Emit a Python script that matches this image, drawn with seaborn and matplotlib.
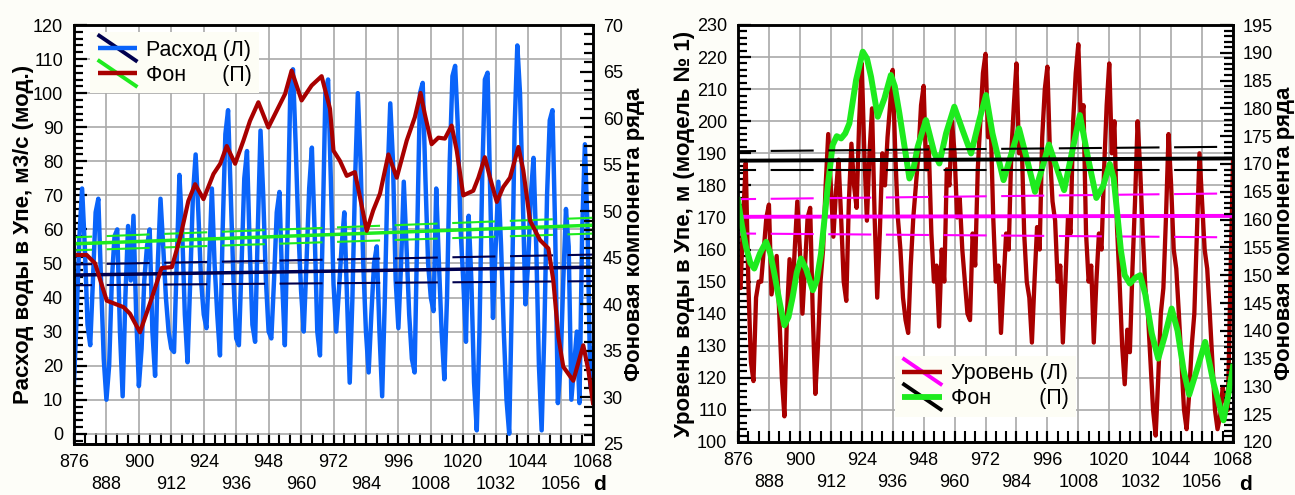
import numpy as np
import pandas as pd
import matplotlib
matplotlib.use("Agg")
import matplotlib.pyplot as plt
import seaborn as sns
from matplotlib.lines import Line2D
from matplotlib.legend_handler import HandlerBase
from matplotlib.ticker import MultipleLocator

plt.rcParams['font.family'] = ['Liberation Sans', 'DejaVu Sans']
plt.rcParams['lines.scale_dashes'] = False
plt.rcParams['lines.solid_joinstyle'] = 'round'

# ---------------- data ----------------
days = list(range(876, 1069))

# water discharge in the Upa river (model), m3/s
flow = [15, 35, 58, 72, 55, 32, 26, 45, 65, 69, 45, 22,
        10, 20, 45, 58, 60, 30, 11, 40, 61, 45, 64, 35,
        14, 25, 45, 55, 60, 30, 17, 50, 69, 55, 40, 30,
        25, 24, 50, 76, 60, 35, 21, 45, 70, 82, 65, 45,
        35, 31, 50, 72, 50, 35, 23, 60, 88, 95, 70, 45,
        28, 26, 50, 75, 83, 55, 32, 27, 60, 89, 70, 45,
        30, 28, 45, 65, 71, 45, 26, 60, 100, 107, 85, 60,
        42, 30, 50, 72, 84, 60, 30, 23, 60, 100, 104, 75,
        44, 30, 42, 55, 65, 40, 15, 40, 75, 100, 80, 50,
        30, 18, 35, 50, 55, 30, 11, 40, 75, 97, 80, 45,
        31, 50, 74, 55, 35, 22, 18, 60, 100, 103, 75, 50,
        40, 36, 72, 50, 30, 16, 40, 80, 105, 108, 90, 60,
        45, 27, 64, 45, 15, 1, 30, 75, 104, 106, 70, 34,
        55, 74, 55, 30, 10, 0, 40, 90, 114, 100, 70, 38,
        50, 70, 81, 55, 20, 1, 30, 70, 92, 95, 60, 9,
        20, 45, 66, 55, 10, 20, 30, 9, 60, 85, 60, 14,
        25]

# water level in the Upa river (model No 1), m
level = [150, 148, 170, 187, 150, 125, 119, 145, 150, 150, 160, 170,
         174, 146, 152, 158, 140, 120, 108, 140, 157, 144, 160, 175,
         160, 140, 155, 170, 173, 140, 115, 130, 150, 160, 180, 196,
         180, 164, 178, 188, 170, 150, 144, 175, 193, 180, 173, 200,
         218, 190, 169, 190, 204, 170, 145, 165, 190, 180, 195, 205,
         216, 190, 170, 160, 145, 138, 134, 155, 170, 180, 190, 205,
         211, 185, 192, 165, 150, 155, 136, 160, 150, 185, 180, 200,
         190, 170, 176, 160, 150, 140, 138, 165, 155, 185, 200, 215,
         221, 195, 200, 170, 150, 155, 134, 150, 165, 160, 190, 205,
         218, 190, 195, 165, 150, 145, 131, 150, 167, 160, 195, 210,
         217, 190, 175, 169, 150, 155, 131, 150, 170, 165, 200, 215,
         224, 200, 205, 165, 150, 155, 131, 150, 165, 160, 185, 205,
         218, 190, 200, 167, 150, 130, 118, 135, 128, 154, 175, 200,
         185, 165, 148, 140, 125, 110, 102, 120, 140, 148, 170, 196,
         180, 160, 154, 140, 125, 110, 104, 115, 130, 140, 165, 190,
         175, 160, 154, 140, 125, 110, 104, 108, 117, 113, 110, 150,
         188]

# background component of the discharge series
flow_bg_d = [876.0, 880.7, 883.8, 888.1, 894.3, 896.7, 900.4, 904.1, 908.4, 912.2,
             915.3, 918.3, 920.8, 923.9, 927.6, 930.1, 932.5, 935.6, 938.7, 941.1,
             944.2, 947.9, 951.0, 954.1, 956.5, 960.2, 963.9, 967.6, 970.7, 972.0,
             974.4, 976.9, 979.9, 981.8, 984.3, 986.7, 989.2, 992.3, 995.4, 999.1,
             1002.1, 1004.2, 1005.8, 1008.3, 1010.8, 1013.2, 1015.7, 1017.6, 1020.0, 1023.7,
             1025.6, 1028.0, 1029.9, 1032.4, 1034.8, 1037.3, 1040.4, 1042.2, 1044.7, 1048.4,
             1051.5, 1053.3, 1055.2, 1057.0, 1060.7, 1064.4, 1066.3, 1068.0]
flow_bg = [45.3, 45.3, 44.4, 40.4, 39.7, 39.0, 37.0, 40.1, 43.9, 44.0,
           47.2, 51.1, 52.9, 51.3, 54.0, 55.1, 57.0, 55.1, 57.6, 59.7,
           61.7, 59.0, 60.8, 62.6, 65.1, 61.9, 63.5, 64.5, 61.0, 56.5,
           55.4, 53.8, 54.2, 51.5, 47.9, 50.1, 51.9, 56.1, 53.6, 57.6,
           60.1, 62.7, 60.4, 57.2, 57.9, 57.8, 59.2, 56.5, 51.7, 52.2,
           53.6, 55.8, 53.6, 51.0, 52.6, 53.6, 56.9, 54.4, 49.0, 46.9,
           46.0, 42.6, 36.5, 33.3, 31.8, 35.6, 32.9, 29.4]

# background component of the level series
level_bg_d = [876.0, 877.5, 879.1, 880.8, 882.3, 884.5, 886.9, 888.5, 890.1, 892.2,
              894.0, 895.6, 897.2, 898.8, 900.4, 902.5, 905.0, 906.5, 908.2, 910.8,
              912.7, 914.3, 916.0, 917.6, 919.2, 921.8, 924.4, 926.0, 927.6, 930.2,
              932.8, 935.3, 936.8, 938.6, 942.5, 944.0, 945.7, 948.9, 952.2, 954.1,
              956.7, 959.9, 963.1, 966.4, 969.6, 972.2, 974.7, 979.0, 981.5, 985.0,
              988.0, 991.2, 993.8, 996.6, 999.5, 1002.5, 1005.5, 1008.6, 1011.8, 1015.0,
              1017.6, 1020.2, 1021.7, 1023.1, 1024.5, 1026.0, 1028.0, 1030.0, 1032.0, 1034.0,
              1036.5, 1039.0, 1041.5, 1044.2, 1046.5, 1048.8, 1051.0, 1054.0, 1057.2, 1060.5,
              1064.3, 1066.0, 1068.0]
level_bg = [163.5, 159.0, 155.1, 152.2, 151.2, 153.9, 156.0, 154.0, 150.3, 145.0,
            141.0, 142.5, 146.1, 150.5, 153.0, 151.0, 147.3, 149.0, 153.9, 165.9,
            173.4, 175.0, 174.6, 175.5, 177.3, 185.1, 190.2, 189.0, 185.7, 178.5,
            181.8, 186.0, 184.0, 179.1, 167.4, 169.0, 173.1, 177.9, 171.9, 170.1,
            175.5, 180.3, 176.1, 171.9, 177.9, 182.4, 175.5, 167.1, 171.0, 176.4,
            171.0, 165.0, 169.0, 173.5, 169.5, 165.3, 172.0, 178.8, 171.0, 163.9,
            166.0, 170.0, 167.5, 161.1, 154.5, 150.0, 148.5, 149.5, 150.0, 146.5,
            139.5, 135.0, 139.0, 144.0, 140.0, 133.0, 128.5, 133.0, 138.0, 130.5,
            123.9, 128.0, 133.5]

# linear trends with confidence bands (start, end)
trend_d = [876, 1068]
flow_trend, flow_hi, flow_lo = [46.6, 48.9], [49.7, 52.6], [43.6, 44.8]
flow_bg_trend, flow_bg_hi, flow_bg_lo = [46.5, 48.5], [47.2, 49.3], [45.8, 47.6]
level_trend, level_hi, level_lo = [170.2, 170.5], [175.7, 177.5], [165.0, 163.8]
level_bg_trend, level_bg_hi, level_bg_lo = [170.6, 171.0], [172.3, 173.1], [168.9, 168.9]

x_row1 = list(range(876, 1069, 24))
x_row2 = list(range(888, 1069, 24))
x_small = list(range(876, 1069, 4))

# ---------------- colours ----------------
BLUE = "#0a64fa"
DARKRED = "#a80000"
GREEN = "#1eeb1e"
NAVY = "#00004e"
MAGENTA = "#ff00ff"
BLACK = "#000000"
GRID = "#a9a9a9"


class TrendHandler(HandlerBase):
    """Legend key: the series colour as a horizontal bar crossed by the trend colour."""

    def __init__(self, main, trend, main_lw=3.2, trend_lw=2.8):
        super().__init__()
        self.main, self.trend = main, trend
        self.main_lw, self.trend_lw = main_lw, trend_lw

    def create_artists(self, legend, orig_handle, xdescent, ydescent,
                       width, height, fontsize, trans):
        x0, x1 = -xdescent, -xdescent + width
        ym = -ydescent + height / 2
        diag = Line2D([x0, x1], [ym + height * 0.9, ym - height * 0.9],
                      color=self.trend, lw=self.trend_lw, solid_capstyle="butt")
        bar = Line2D([x0, x1], [ym, ym], color=self.main, lw=self.main_lw,
                     solid_capstyle="butt")
        for a in (diag, bar):
            a.set_transform(trans)
        return [diag, bar]


def band(ax, y, color, lw):
    sns.lineplot(x=trend_d, y=y, ax=ax, color=color, linewidth=lw, estimator=None)
    ax.lines[-1].set_linestyle((18, (31, 10.5)))


def style(ax, ax2, ylim, y2lim, ymaj, y2maj, y2min, ylabel, y2label):
    ax.set_xlim(876, 1068)
    ax.set_ylim(*ylim)
    ax2.set_ylim(*y2lim)
    # two rows of day labels: every other gridline on the second row
    ax.set_xticks(x_row1, [str(v) for v in x_row1])
    ax.set_xticks(x_row2, [str(v) for v in x_row2], minor=True)
    ax.yaxis.set_major_locator(MultipleLocator(ymaj))
    ax.yaxis.set_minor_locator(MultipleLocator(2))
    ax2.yaxis.set_major_locator(MultipleLocator(y2maj))
    ax2.yaxis.set_minor_locator(MultipleLocator(y2min))
    ax.xaxis.grid(True, which="both", color=GRID, linewidth=1.2)
    ax.yaxis.grid(True, which="major", color=GRID, linewidth=1.2)
    ax.set_axisbelow(True)
    ax.tick_params(axis="x", which="major", direction="in", length=8, width=1.5,
                   labelsize=13, pad=7.5, top=False, bottom=True)
    ax.tick_params(axis="x", which="minor", direction="in", length=8, width=1.5,
                   labelsize=13, pad=23.3, top=False, bottom=True)
    ax.tick_params(axis="y", which="major", direction="in", length=9.5, width=1.6,
                   labelsize=13, pad=8, left=True, right=False)
    ax.tick_params(axis="y", which="minor", direction="in", length=6.5, width=1.6,
                   left=True, right=False)
    ax2.tick_params(axis="y", which="major", direction="in", length=9.5, width=1.6,
                    labelsize=13, pad=7, right=True, left=False)
    ax2.tick_params(axis="y", which="minor", direction="in", length=6.5, width=1.6,
                    right=True, left=False)
    # small day ticks every 4 units
    sec = ax.secondary_xaxis("bottom")
    sec.set_xticks(x_small)
    sec.tick_params(direction="in", length=8, width=1.5, labelbottom=False)
    for a in (ax, ax2, sec):
        for s in a.spines.values():
            s.set_linewidth(1.8)
            s.set_color("black")
    ax.set_xlabel("")
    ax.set_ylabel(ylabel, fontsize=16, fontweight="bold")
    ax2.set_ylabel(y2label, fontsize=16, fontweight="bold")


fig = plt.figure(figsize=(12.95, 4.95), dpi=100, facecolor="#fdfdf8")

# ================= left panel: discharge =================
axL = fig.add_axes([74 / 1295, 1 - 444 / 495, 519 / 1295, 419 / 495])
axL.set_facecolor("white")
axL2 = axL.twinx()

sns.lineplot(x=days, y=flow, ax=axL, color=BLUE, linewidth=3.2, estimator=None)
sns.lineplot(x=trend_d, y=flow_trend, ax=axL, color=NAVY, linewidth=2.5, estimator=None)
band(axL, flow_hi, NAVY, 1.5)
band(axL, flow_lo, NAVY, 1.5)

sns.lineplot(x=trend_d, y=flow_bg_trend, ax=axL2, color=GREEN, linewidth=2.5, estimator=None)
band(axL2, flow_bg_hi, GREEN, 1.5)
band(axL2, flow_bg_lo, GREEN, 1.5)
sns.lineplot(x=flow_bg_d, y=flow_bg, ax=axL2, color=DARKRED, linewidth=3.0, estimator=None)

style(axL, axL2, (-3, 120), (25, 70), 10, 5, 1,
      "Расход воды в Упе, м3/с (мод.)", "Фоновая компонента ряда")
axL.yaxis.set_label_coords(-0.078, 0.5)
axL2.yaxis.set_label_coords(1.060, 0.5)

pL1 = Line2D([], [], color=BLUE)
pL2 = Line2D([], [], color=DARKRED)
legL = axL2.legend([pL1, pL2], ["Расход (Л)", "Фон      (П)"],
                   handler_map={pL1: TrendHandler(BLUE, NAVY),
                                pL2: TrendHandler(DARKRED, GREEN)},
                   loc="upper left", bbox_to_anchor=(0.031, 0.983), borderaxespad=0,
                   fontsize=15.5, frameon=True, facecolor="#fdfdf5", edgecolor="none",
                   framealpha=1, fancybox=False, handlelength=1.85, handletextpad=0.4,
                   labelspacing=0.2, borderpad=0.35)
legL.set_zorder(10)

# ================= right panel: level =================
axR = fig.add_axes([738 / 1295, 1 - 442 / 495, 495 / 1295, 417 / 495])
axR.set_facecolor("white")
axR2 = axR.twinx()

sns.lineplot(x=days, y=level, ax=axR, color=DARKRED, linewidth=3.1, estimator=None)
sns.lineplot(x=trend_d, y=level_trend, ax=axR, color=MAGENTA, linewidth=2.8, estimator=None)
band(axR, level_hi, MAGENTA, 1.5)
band(axR, level_lo, MAGENTA, 1.5)

sns.lineplot(x=level_bg_d, y=level_bg, ax=axR2, color=GREEN, linewidth=4.3, estimator=None)
sns.lineplot(x=trend_d, y=level_bg_trend, ax=axR2, color=BLACK, linewidth=2.8, estimator=None)
band(axR2, level_bg_hi, BLACK, 1.5)
band(axR2, level_bg_lo, BLACK, 1.5)

style(axR, axR2, (100, 230), (120, 195), 10, 5, 1,
      "Уровень воды в Упе, м (модель № 1)", "Фоновая компонента ряда")
axR.yaxis.set_label_coords(-0.087, 0.5)
axR2.yaxis.set_label_coords(1.083, 0.5)

pR1 = Line2D([], [], color=DARKRED)
pR2 = Line2D([], [], color=GREEN)
legR = axR2.legend([pR1, pR2], ["Уровень (Л)", "Фон        (П)"],
                   handler_map={pR1: TrendHandler(DARKRED, MAGENTA),
                                pR2: TrendHandler(GREEN, BLACK, main_lw=4.2)},
                   loc="lower left", bbox_to_anchor=(0.317, 0.06), borderaxespad=0,
                   fontsize=15.5, frameon=True, facecolor="#fdfdf5", edgecolor="none",
                   framealpha=1, fancybox=False, handlelength=1.85, handletextpad=0.4,
                   labelspacing=0.2, borderpad=0.35)
legR.set_zorder(10)

fig.text(600 / 1295, 1 - 484 / 495, "d", fontsize=15, fontweight="bold",
         ha="center", va="center")
fig.text(1245 / 1295, 1 - 484 / 495, "d", fontsize=15, fontweight="bold",
         ha="center", va="center")

fig.savefig("out.png", dpi=100, facecolor=fig.get_facecolor())
